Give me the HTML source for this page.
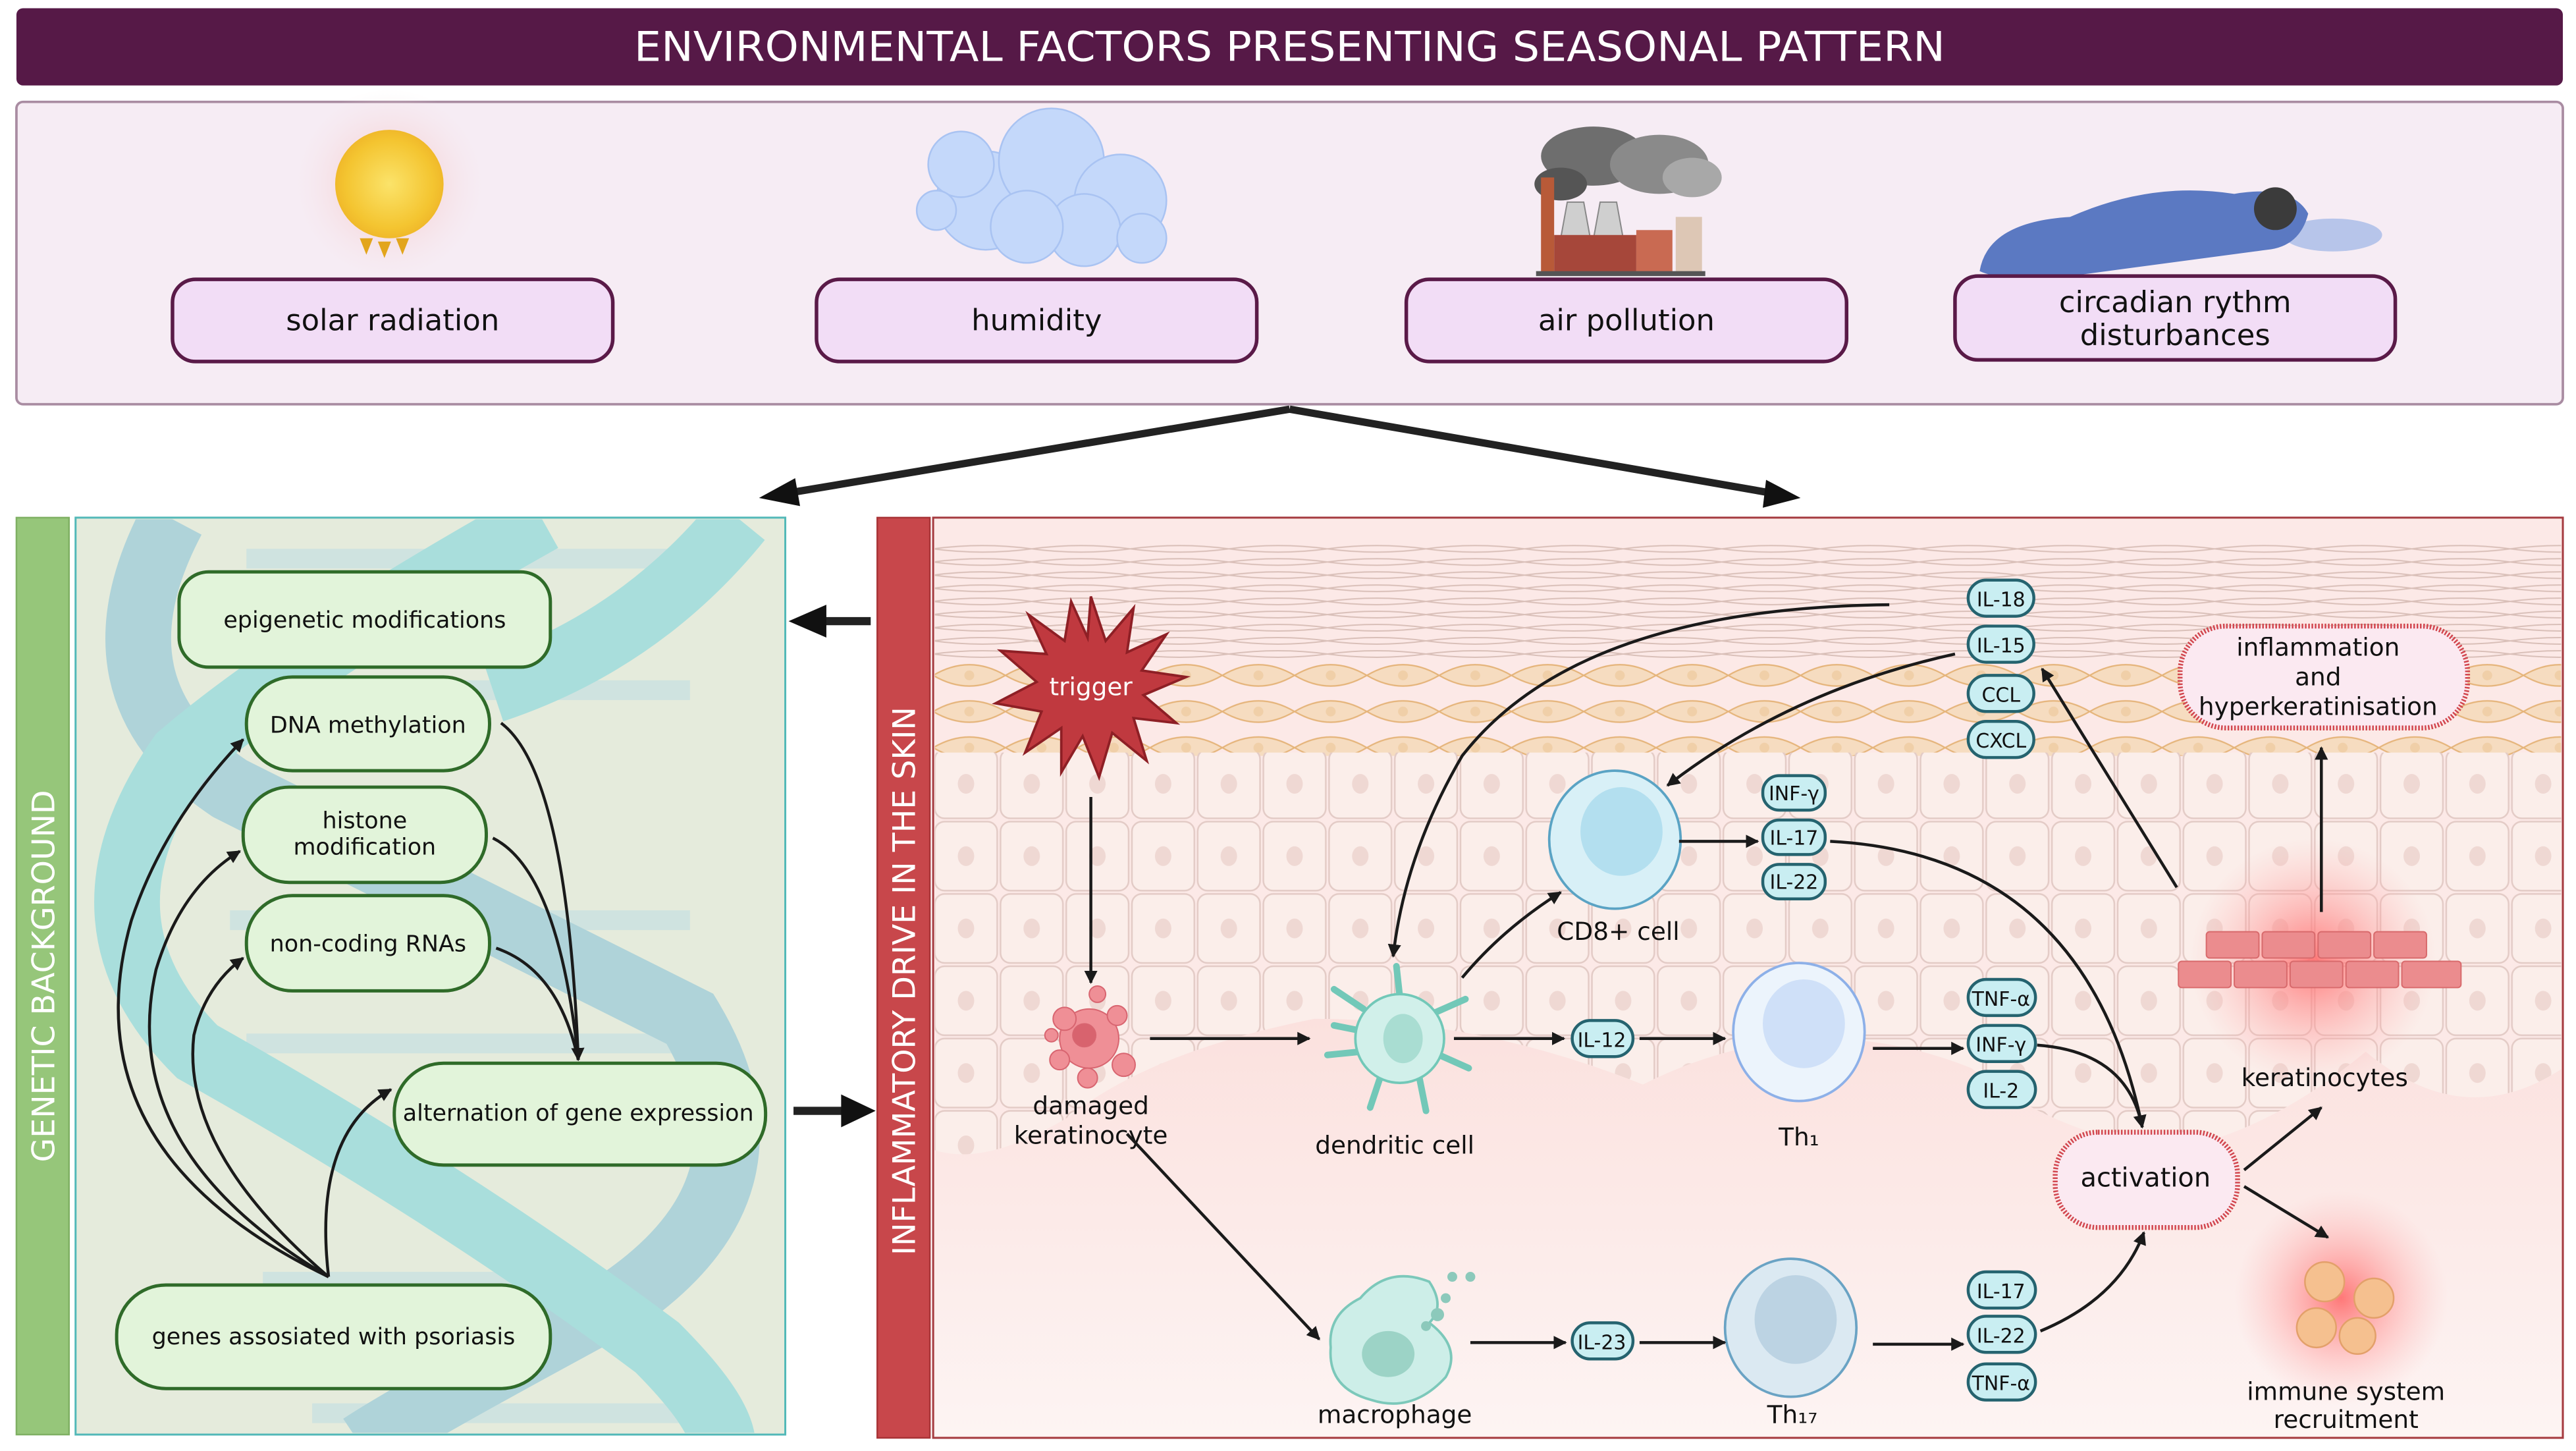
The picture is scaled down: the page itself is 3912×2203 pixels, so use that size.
<!DOCTYPE html>
<html><head><meta charset="utf-8"><style>
html,body{margin:0;padding:0;background:#fff}
svg{display:block}
text{font-family:"DejaVu Sans","Liberation Sans",sans-serif}
</style></head><body>
<svg width="3912" height="2203" viewBox="0 0 1568 883" preserveAspectRatio="none" xmlns="http://www.w3.org/2000/svg">
<defs>
<marker id="ah" viewBox="0 0 10 10" refX="9" refY="5" markerWidth="4.5" markerHeight="4.5" orient="auto"><path d="M0,0L10,5L0,10z" fill="#1a1a1a"/></marker>
<pattern id="cells" x="568" y="455" width="40" height="44" patternUnits="userSpaceOnUse">
<rect x="1" y="1" width="38" height="42" rx="6" fill="#fbeeea" stroke="#e3cbc6" stroke-width="1"/>
<ellipse cx="20" cy="22" rx="5" ry="6" fill="#efd8d3"/>
</pattern>
<pattern id="corn" x="568" y="330" width="60" height="8" patternUnits="userSpaceOnUse">
<path d="M0,4 Q30,0 60,4 M0,4 Q30,8 60,4" fill="none" stroke="#d9bfb8" stroke-width="0.8"/>
</pattern>
<pattern id="gran" x="568" y="400" width="44" height="22" patternUnits="userSpaceOnUse">
<path d="M0,11 Q22,-2 44,11 Q22,24 0,11z" fill="#f6dcc0" stroke="#e5b47a" stroke-width="0.9"/>
<circle cx="22" cy="11" r="3" fill="#f0cfa8"/>
</pattern>
<radialGradient id="sun" cx="0.5" cy="0.5" r="0.5"><stop offset="0" stop-color="#fbe36a"/><stop offset="0.8" stop-color="#f4c531"/><stop offset="1" stop-color="#f0b92a"/></radialGradient>
<radialGradient id="glow" cx="0.5" cy="0.5" r="0.5"><stop offset="0" stop-color="#f5b8b3" stop-opacity="0.9"/><stop offset="1" stop-color="#f7e3e8" stop-opacity="0"/></radialGradient>
<radialGradient id="redglow" cx="0.5" cy="0.5" r="0.5"><stop offset="0" stop-color="#ff6b6b" stop-opacity="0.9"/><stop offset="1" stop-color="#ffb3b3" stop-opacity="0"/></radialGradient>
<linearGradient id="bottomPink" x1="0" y1="0" x2="0" y2="1"><stop offset="0" stop-color="#fbe1de"/><stop offset="1" stop-color="#fdf4f3"/></linearGradient>
<clipPath id="skinclip"><rect x="569" y="316" width="990" height="558"/></clipPath>
<clipPath id="genclip"><rect x="47" y="316" width="430" height="556"/></clipPath>
</defs>

<rect width="1568" height="883" fill="#fff"/>
<rect x="10" y="5" width="1550" height="47" rx="4" fill="#561947"/>
<text x="785" y="37" font-size="25" fill="#fff" text-anchor="middle" textLength="798" lengthAdjust="spacingAndGlyphs">ENVIRONMENTAL FACTORS PRESENTING SEASONAL PATTERN</text>

<rect x="10" y="62" width="1550" height="184" rx="4" fill="#f6ecf4" stroke="#a98ca2" stroke-width="1.5"/>
<circle cx="237" cy="112" r="58" fill="url(#glow)"/>
<circle cx="237" cy="112" r="33" fill="url(#sun)"/>
<path d="M219,145l4,10l4,-10z M230,147l4,10l4,-10z M241,145l4,10l4,-10z" fill="#e2a51c"/>
<g fill="#c4d8fa" stroke="#a9c3f2" stroke-width="1">
<circle cx="600" cy="122" r="30"/><circle cx="640" cy="98" r="32"/><circle cx="682" cy="122" r="28"/><circle cx="585" cy="100" r="20"/><circle cx="660" cy="140" r="22"/><circle cx="625" cy="138" r="22"/><circle cx="695" cy="145" r="15"/><circle cx="570" cy="128" r="12"/>
</g>
<g>
<ellipse cx="970" cy="95" rx="32" ry="18" fill="#6e6e6e"/><ellipse cx="1010" cy="100" rx="30" ry="18" fill="#8a8a8a"/><ellipse cx="1030" cy="108" rx="18" ry="12" fill="#a8a8a8"/><ellipse cx="950" cy="112" rx="16" ry="10" fill="#555"/>
<rect x="938" y="108" width="8" height="58" fill="#b85a38"/>
<path d="M950,145 l4,-22 h10 l4,22z M970,145 l4,-22 h10 l4,22z" fill="#cfcfcf" stroke="#888" stroke-width="0.8"/>
<rect x="946" y="143" width="50" height="23" fill="#a6473a"/>
<rect x="996" y="140" width="22" height="26" fill="#c96a52"/>
<rect x="1020" y="132" width="16" height="34" fill="#ddc7b5"/>
<rect x="935" y="165" width="103" height="3" fill="#555"/>
</g>
<g>
<ellipse cx="1420" cy="143" rx="30" ry="10" fill="#b7c5ea"/>
<path d="M1205,165 Q1210,135 1260,132 Q1310,110 1360,118 Q1395,112 1405,130 Q1400,150 1380,152 Q1320,160 1260,168 Q1220,172 1205,165z" fill="#5b79c2"/>
<circle cx="1385" cy="127" r="13" fill="#3b3b3b"/>
</g>
<g font-size="18" fill="#111" text-anchor="middle">
<rect x="105" y="170" width="268" height="50" rx="14" fill="#f2ddf6" stroke="#5a1a48" stroke-width="2.2"/>
<text x="239" y="201">solar radiation</text>
<rect x="497" y="170" width="268" height="50" rx="14" fill="#f2ddf6" stroke="#5a1a48" stroke-width="2.2"/>
<text x="631" y="201">humidity</text>
<rect x="856" y="170" width="268" height="50" rx="14" fill="#f2ddf6" stroke="#5a1a48" stroke-width="2.2"/>
<text x="990" y="201">air pollution</text>
<rect x="1190" y="168" width="268" height="51" rx="14" fill="#f2ddf6" stroke="#5a1a48" stroke-width="2.2"/>
<text x="1324" y="190">circadian rythm</text>
<text x="1324" y="210">disturbances</text>
</g>

<path d="M785,249 L480,300" stroke="#222" stroke-width="4.5"/>
<path d="M462,303 L484,291 L487,308z" fill="#111"/>
<path d="M785,249 L1078,300" stroke="#222" stroke-width="4.5"/>
<path d="M1096,303 L1075,292 L1073,309z" fill="#111"/>

<rect x="10" y="315" width="32" height="558" fill="#96c67a" stroke="#7fb063"/>
<text transform="translate(33,594) rotate(-90)" font-size="19" fill="#fff" text-anchor="middle">GENETIC BACKGROUND</text>
<rect x="46" y="315" width="432" height="558" fill="#e5ebdc" stroke="#52b8b8" stroke-width="1.2"/>
<g clip-path="url(#genclip)" fill="none">
<g stroke="#cfe3e0" stroke-width="12"><path d="M150,340H440M160,420H420M140,560H420M150,635H420M200,700H420M160,780H400M190,860H420"/></g>
<path d="M105,316 Q50,420 140,480 Q300,560 420,620 Q480,720 380,790 Q250,860 220,880" stroke="#afd3d9" stroke-width="40"/>
<path d="M330,316 Q180,400 110,460 Q40,560 120,640 Q280,730 400,820 Q440,860 440,880" stroke="#a9dedc" stroke-width="40"/>
<path d="M450,316 Q390,390 300,420" stroke="#a9dedc" stroke-width="40"/>
</g>
<g font-size="14" fill="#111" text-anchor="middle">
<rect x="109" y="348" width="226" height="58" rx="18" fill="#e2f4da" stroke="#2f6b29" stroke-width="2"/>
<text x="222" y="382">epigenetic modifications</text>
<rect x="150" y="412" width="148" height="57" rx="28" fill="#e2f4da" stroke="#2f6b29" stroke-width="2"/>
<text x="224" y="446">DNA methylation</text>
<rect x="148" y="479" width="148" height="58" rx="28" fill="#e2f4da" stroke="#2f6b29" stroke-width="2"/>
<text x="222" y="504">histone</text><text x="222" y="520">modification</text>
<rect x="150" y="545" width="148" height="58" rx="28" fill="#e2f4da" stroke="#2f6b29" stroke-width="2"/>
<text x="224" y="579">non-coding RNAs</text>
<rect x="240" y="647" width="226" height="62" rx="30" fill="#e2f4da" stroke="#2f6b29" stroke-width="2"/>
<text x="352" y="682">alternation of gene expression</text>
<rect x="71" y="782" width="264" height="63" rx="30" fill="#e2f4da" stroke="#2f6b29" stroke-width="2"/>
<text x="203" y="818">genes assosiated with psoriasis</text>
</g>
<g fill="none" stroke="#1a1a1a" stroke-width="1.8">
<path d="M200,777 Q40,700 80,560 Q100,500 148,450" marker-end="url(#ah)"/>
<path d="M200,777 Q70,700 95,590 Q110,540 146,518" marker-end="url(#ah)"/>
<path d="M200,777 Q110,700 118,630 Q125,600 148,583" marker-end="url(#ah)"/>
<path d="M200,777 Q190,690 238,663" marker-end="url(#ah)"/>
<path d="M305,440 Q345,470 352,645" marker-end="url(#ah)"/>
<path d="M300,510 Q340,530 352,645"/>
<path d="M302,577 Q340,590 352,645"/>
</g>
<path d="M530,378 H500" stroke="#222" stroke-width="5"/><path d="M480,378 L503,368 L503,388z" fill="#111"/>
<path d="M483,676 H515" stroke="#222" stroke-width="5"/><path d="M533,676 L512,666 L512,686z" fill="#111"/>

<rect x="534" y="315" width="32" height="560" fill="#c8474b" stroke="#a83336"/>
<text transform="translate(557,597) rotate(-90)" font-size="19" fill="#fff" text-anchor="middle">INFLAMMATORY DRIVE IN THE SKIN</text>
<rect x="568" y="315" width="992" height="560" fill="#fce9e7" stroke="#a53a3f" stroke-width="1.2"/>
<g clip-path="url(#skinclip)">
<rect x="569" y="330" width="990" height="72" fill="url(#corn)"/>
<rect x="569" y="400" width="990" height="60" fill="url(#gran)"/>
<path d="M569,458 H1560 V650 Q1500,690 1440,640 Q1380,690 1320,700 Q1250,690 1200,650 Q1100,610 1000,660 Q900,620 800,620 Q700,640 650,680 Q600,710 569,700z" fill="url(#cells)"/>
<path d="M569,700 Q600,710 650,680 Q700,640 800,620 Q900,620 1000,660 Q1100,610 1200,650 Q1250,690 1320,700 Q1380,690 1440,640 Q1500,690 1560,650 V874 H569z" fill="url(#bottomPink)"/>
</g>
<g transform="translate(664,418)">
<path d="M0,-55 L9,-28 L26,-48 L22,-21 L46,-32 L31,-10 L58,-6 L32,5 L52,22 L26,19 L34,45 L13,28 L5,55 L-5,30 L-18,52 L-18,25 L-40,40 L-30,15 L-58,10 L-33,-3 L-55,-22 L-27,-20 L-38,-44 L-16,-28 L-12,-52 L-2,-30z" fill="#c0393f" stroke="#8e1f25" stroke-width="1.5"/>
<text x="0" y="5" font-size="15" fill="#fff" text-anchor="middle">trigger</text>
</g>
<g fill="#ef8f96" stroke="#d86570" stroke-width="0.8">
<circle cx="663" cy="632" r="18"/><circle cx="648" cy="620" r="7"/><circle cx="680" cy="618" r="6"/><circle cx="645" cy="645" r="6"/><circle cx="684" cy="648" r="7"/><circle cx="662" cy="656" r="6"/><circle cx="640" cy="630" r="4"/><circle cx="668" cy="605" r="5"/>
<circle cx="660" cy="630" r="7" fill="#d8636e"/>
</g>
<g transform="translate(852,632)" fill="#d1f0ea" stroke="#72c8b8" stroke-width="1.5">
<path d="M-22,-18 L-40,-30 M22,-16 L40,-24 M0,-26 L-2,-44 M24,10 L42,18 M-24,8 L-44,10 M-12,24 L-18,42 M12,24 L16,44 M-20,-4 L-40,-8" stroke-width="4" stroke-linecap="round"/>
<circle r="27"/>
<ellipse cx="2" cy="0" rx="12" ry="15" fill="#a9ddd2" stroke="none"/>
</g>
<ellipse cx="983" cy="511" rx="40" ry="42" fill="#d8f0f7" stroke="#5aa3c4" stroke-width="1.5"/>
<ellipse cx="987" cy="506" rx="25" ry="27" fill="#b3dfef"/>
<ellipse cx="1095" cy="628" rx="40" ry="42" fill="#ecf4fc" stroke="#8db0e8" stroke-width="1.5"/>
<ellipse cx="1098" cy="623" rx="25" ry="27" fill="#cfe0f8"/>
<ellipse cx="1090" cy="808" rx="40" ry="42" fill="#dbe9f2" stroke="#6aa3c4" stroke-width="1.5"/>
<ellipse cx="1093" cy="803" rx="25" ry="27" fill="#bcd3e3"/>
<g>
<path d="M828,790 Q845,770 870,780 Q880,795 870,805 Q890,820 880,838 Q860,860 835,852 Q808,845 810,820 Q808,800 828,790z" fill="#cdeee8" stroke="#7cc8ba" stroke-width="1.5"/>
<ellipse cx="845" cy="824" rx="16" ry="14" fill="#9cd3c6"/>
<circle cx="884" cy="777" r="3" fill="#8cc9bb"/><circle cx="895" cy="777" r="3" fill="#8cc9bb"/><circle cx="875" cy="800" r="4" fill="#8cc9bb"/><circle cx="868" cy="807" r="3" fill="#8cc9bb"/><circle cx="880" cy="790" r="3" fill="#8cc9bb"/>
</g>
<circle cx="1408" cy="585" r="75" fill="url(#redglow)"/>
<g fill="#eb8c8e" stroke="#d86a6c" stroke-width="0.8">
<rect x="1343" y="567" width="32" height="16" rx="2"/><rect x="1377" y="567" width="32" height="16" rx="2"/><rect x="1411" y="567" width="32" height="16" rx="2"/><rect x="1445" y="567" width="32" height="16" rx="2"/>
<rect x="1326" y="585" width="32" height="16" rx="2"/><rect x="1360" y="585" width="32" height="16" rx="2"/><rect x="1394" y="585" width="32" height="16" rx="2"/><rect x="1428" y="585" width="32" height="16" rx="2"/><rect x="1462" y="585" width="36" height="16" rx="2"/>
</g>
<circle cx="1425" cy="790" r="65" fill="url(#redglow)"/>
<g fill="#f5c08f" stroke="#e3a06a" stroke-width="1"><circle cx="1415" cy="780" r="12"/><circle cx="1445" cy="790" r="12"/><circle cx="1410" cy="808" r="12"/><circle cx="1435" cy="813" r="11"/></g>

<g font-size="15" fill="#111" text-anchor="middle">
<text x="664" y="678">damaged</text><text x="664" y="696">keratinocyte</text>
<text x="849" y="702">dendritic cell</text>
<text x="985" y="572">CD8+ cell</text>
<text x="1095" y="697">Th₁</text>
<text x="849" y="866">macrophage</text>
<text x="1091" y="866">Th₁₇</text>
<text x="1415" y="661">keratinocytes</text>
<text x="1428" y="852">immune system</text><text x="1428" y="869">recruitment</text>
</g>
<g font-size="12" fill="#111" text-anchor="middle" stroke-width="1.8">
<g stroke="#25636f" fill="#c9eef2">
<rect x="1198" y="353" width="40" height="22" rx="11"/><rect x="1198" y="381" width="40" height="22" rx="11"/><rect x="1198" y="411" width="40" height="22" rx="11"/><rect x="1198" y="439" width="40" height="22" rx="11"/>
<rect x="1073" y="472" width="38" height="21" rx="10"/><rect x="1073" y="499" width="38" height="21" rx="10"/><rect x="1073" y="526" width="38" height="21" rx="10"/>
<rect x="957" y="621" width="37" height="22" rx="11"/>
<rect x="1198" y="596" width="41" height="22" rx="11"/><rect x="1198" y="624" width="41" height="22" rx="11"/><rect x="1198" y="652" width="41" height="22" rx="11"/>
<rect x="957" y="805" width="37" height="22" rx="11"/>
<rect x="1198" y="774" width="41" height="22" rx="11"/><rect x="1198" y="801" width="41" height="22" rx="11"/><rect x="1198" y="830" width="41" height="22" rx="11"/>
</g>
<text x="1218" y="369">IL-18</text><text x="1218" y="397">IL-15</text><text x="1218" y="427">CCL</text><text x="1218" y="455">CXCL</text>
<text x="1092" y="487">INF-γ</text><text x="1092" y="514">IL-17</text><text x="1092" y="541">IL-22</text>
<text x="975" y="637">IL-12</text>
<text x="1218" y="612">TNF-α</text><text x="1218" y="640">INF-γ</text><text x="1218" y="668">IL-2</text>
<text x="975" y="821">IL-23</text>
<text x="1218" y="790">IL-17</text><text x="1218" y="817">IL-22</text><text x="1218" y="846">TNF-α</text>
</g>
<rect x="1251" y="689" width="111" height="58" rx="26" fill="#fbe9f1" stroke="#d2474f" stroke-width="3" stroke-dasharray="1 1"/>
<text x="1306" y="722" font-size="16" fill="#111" text-anchor="middle">activation</text>
<rect x="1327" y="381" width="175" height="62" rx="28" fill="#fbe9f1" stroke="#d2474f" stroke-width="3" stroke-dasharray="1 1"/>
<g font-size="15" fill="#111" text-anchor="middle"><text x="1411" y="399">inflammation</text><text x="1411" y="417">and</text><text x="1411" y="435">hyperkeratinisation</text></g>

<g fill="none" stroke="#1a1a1a" stroke-width="1.8">
<path d="M664,485 V598" marker-end="url(#ah)"/>
<path d="M700,632 H797" marker-end="url(#ah)"/>
<path d="M885,632 H952" marker-end="url(#ah)"/>
<path d="M998,632 H1050" marker-end="url(#ah)"/>
<path d="M1140,638 H1195" marker-end="url(#ah)"/>
<path d="M1022,512 H1070" marker-end="url(#ah)"/>
<path d="M890,595 Q915,565 950,543" marker-end="url(#ah)"/>
<path d="M1150,368 Q960,370 890,460 Q855,520 848,582" marker-end="url(#ah)"/>
<path d="M1190,398 Q1090,420 1015,478" marker-end="url(#ah)"/>
<path d="M1114,512 Q1270,520 1304,686" marker-end="url(#ah)"/>
<path d="M1240,636 Q1295,640 1304,686"/>
<path d="M686,690 L803,815" marker-end="url(#ah)"/>
<path d="M895,817 H953" marker-end="url(#ah)"/>
<path d="M998,817 H1050" marker-end="url(#ah)"/>
<path d="M1140,818 H1195" marker-end="url(#ah)"/>
<path d="M1242,810 Q1290,790 1305,750" marker-end="url(#ah)"/>
<path d="M1325,540 L1243,407" marker-end="url(#ah)"/>
<path d="M1413,555 V455" marker-end="url(#ah)"/>
<path d="M1366,712 L1413,674" marker-end="url(#ah)"/>
<path d="M1366,722 L1417,753" marker-end="url(#ah)"/>
</g>
</svg>
</body></html>
